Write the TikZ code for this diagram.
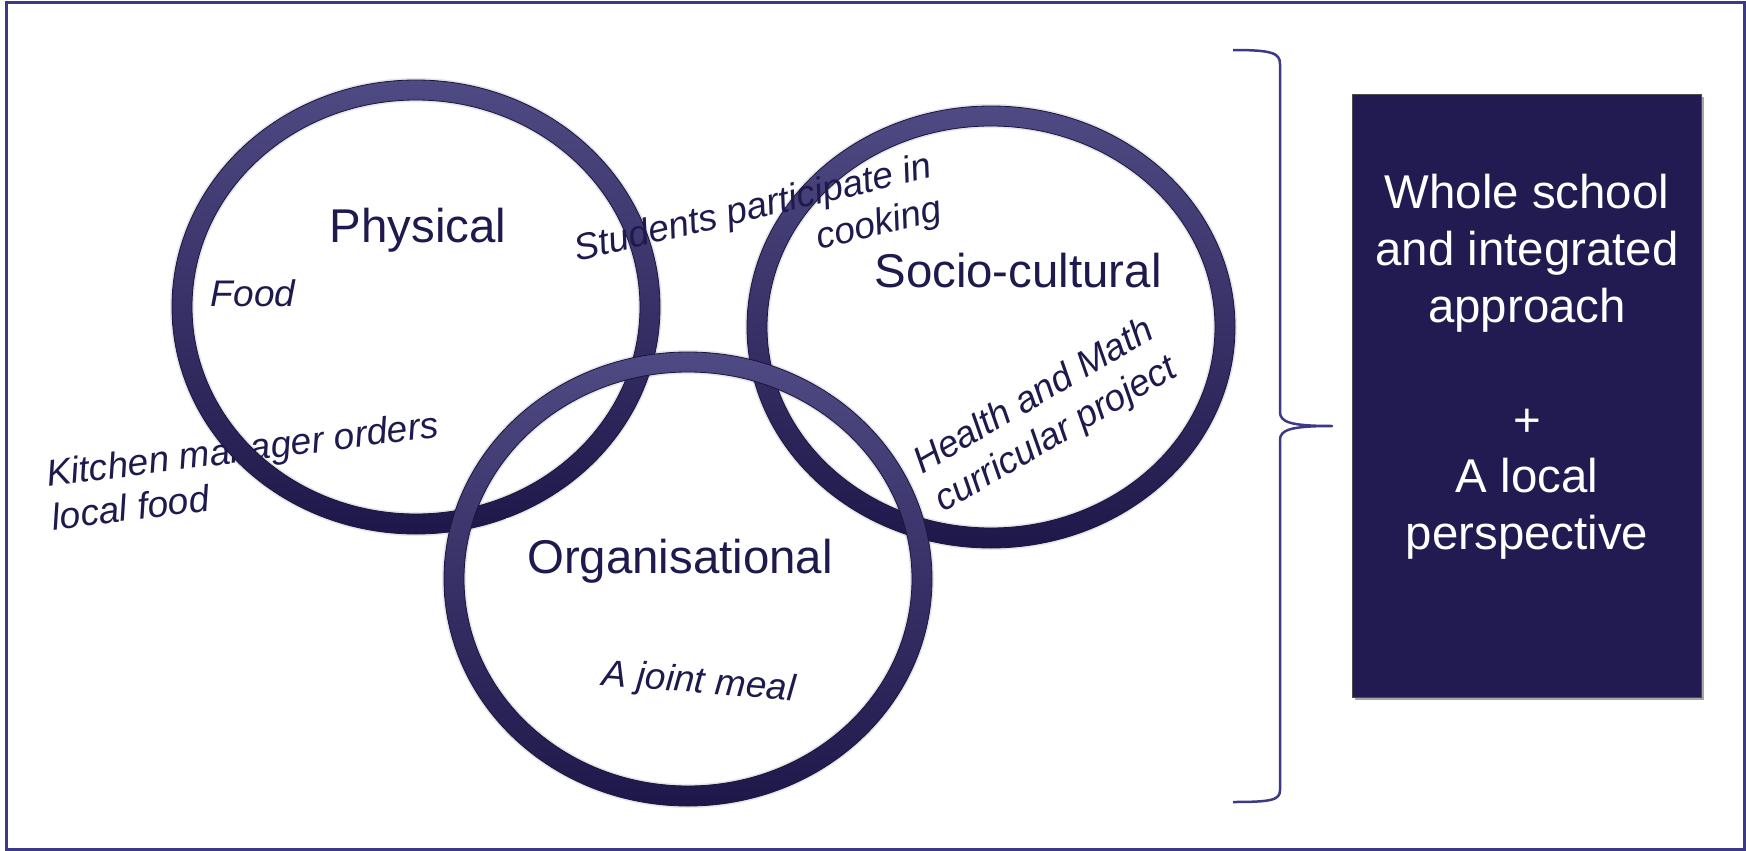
\documentclass[tikz,border=0pt]{standalone}
\usepackage{fontspec}
\setmainfont{Liberation Sans}
\definecolor{framecol}{RGB}{62,57,135}
\definecolor{ringlight}{RGB}{80,74,132}
\definecolor{ringdark}{RGB}{30,24,74}
\definecolor{navytext}{RGB}{31,26,77}
\definecolor{boxfill}{RGB}{34,27,82}
\tikzset{
  big/.style={font=\fontsize{47.4}{56.8}\selectfont, text=navytext, inner sep=0pt},
  small/.style={font=\fontsize{37}{44}\selectfont\itshape, text=navytext, inner sep=0pt},
  ring/.style={top color=ringlight, bottom color=ringdark, even odd rule, draw=ringdark!85!black, line width=0.8pt},
  ringshadow/.style={fill=black, opacity=0.10, even odd rule},
}
\begin{document}
\begin{tikzpicture}[x=1pt,y=-1pt]
\useasboundingbox (0,0) rectangle (1746,851);
\fill[white] (0,0) rectangle (1746,851);
% outer frame
\draw[framecol, line width=3pt] (6,3) rectangle (1744,849);

% label lying under the Physical ring
\node[small, align=left, rotate=7.3] (kitchen) at (245,470.6) {Kitchen manager orders\\local food};

% ring centres
\coordinate (physc) at (416,307);
\coordinate (socc) at (991,327);
\coordinate (orgc) at (688,579);

% shadows
\foreach \c/\ry in {physc/227, socc/221, orgc/227}{
  \path[ringshadow, shift={(3,6)}] (\c) ellipse [x radius=246, y radius=\ry+2] (\c) ellipse [x radius=222, y radius=\ry-22];
}
% Physical ring
\shade[ring] (physc) ellipse [x radius=244, y radius=227] (physc) ellipse [x radius=224, y radius=207];
% Socio-cultural ring
\shade[ring] (socc) ellipse [x radius=244, y radius=221] (socc) ellipse [x radius=224, y radius=201];
% Organisational ring
\shade[ring] (orgc) ellipse [x radius=244, y radius=227] (orgc) ellipse [x radius=224, y radius=207];

% white label box of Organisational
\node[fill=white, inner sep=0pt, minimum width=352pt, minimum height=80pt, anchor=north west] (orgbox) at (506,518) {};

% titles
\node[big, anchor=base] (physical) at (418,242) {Physical};
\node[big, anchor=base] (socio) at (1018,287) {Socio-cultural};
\node[big, anchor=base] (organisational) at (680,573) {Organisational};

% examples
\node[small, align=right, rotate=13.3] (students) at (758,231.4) {Students participate in\\cooking};
\node[small, anchor=base] (food) at (253,306) {Food};
\node[small, anchor=base, rotate=-4.7] (meal) at (698,693) {A joint meal};
\node[small, align=center, rotate=30.3] (health) at (1045.5,416.5) {Health and Math\\curricular project};

% brace
\draw[framecol, line width=2.5pt, line join=round]
  (1233,50) .. controls (1272,50) and (1280,53) .. (1280,64)
  -- (1280,412) .. controls (1280,422) and (1290,426) .. (1332,426)
  .. controls (1290,426) and (1280,430) .. (1280,440)
  -- (1280,790) .. controls (1280,800) and (1272,802) .. (1233,802);

% right box
\fill[black, opacity=0.35] (1355,97) rectangle (1704,700);
\node[fill=boxfill, draw=black!70, line width=1pt, inner sep=0pt, minimum width=349pt, minimum height=603pt] (approachbox) at (1526.5,395.5) {};
\node[big, text=white, align=center] (approach) at (1527,367)
  {Whole school\\and integrated\\approach\\[56.8pt]+\\A local\\perspective};
\end{tikzpicture}
\end{document}
